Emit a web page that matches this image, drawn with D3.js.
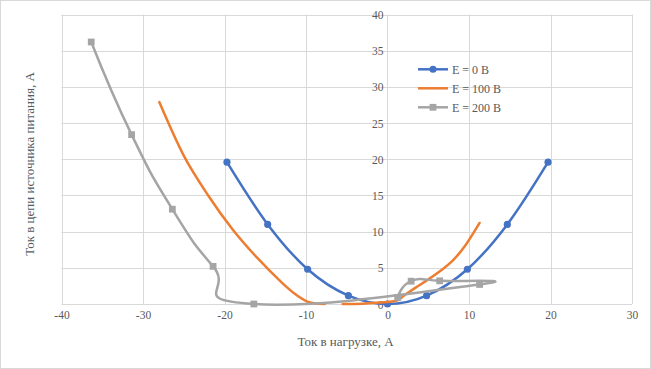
<!DOCTYPE html>
<html><head><meta charset="utf-8">
<script src="https://cdn.jsdelivr.net/npm/d3@7"></script>
<style>body{margin:0;background:#fff}svg{display:block}</style>
</head><body>
<svg id="c" width="651" height="369"></svg>
<script>
// ---- data ----
const xTicks = [-40, -30, -20, -10, 0, 10, 20, 30];
const yTicks = [0, 5, 10, 15, 20, 25, 30, 35, 40];
const seriesNames = ["E = 0 В", "E = 100 В", "E = 200 В"];
const xTitle = "Ток в нагрузке, А";
const yTitle = "Ток в цепи источника питания, А";

const e0X = [-19.7, -14.7, -9.8, -4.8, 0, 4.8, 9.8, 14.7, 19.7];
const e0Y = [19.6, 11.0, 4.8, 1.15, 0, 1.15, 4.8, 11.0, 19.6];

const e100X = [-28.0, -25.0, -22.0, -19.0, -16.0, -13.0, -11.0, -9.5, -7.7, null, -5.5, -3.0, -1.0, 0.5, 1.3, 2.2, 3.5, 5.0, 6.5, 8.0, 9.5, 11.3];
const e100Y = [27.9, 20.5, 15.0, 10.3, 6.4, 3.0, 1.1, 0.2, 0.0, null, 0.0, 0.05, 0.2, 0.35, 0.55, 1.3, 2.3, 3.4, 4.6, 6.0, 8.0, 11.2];

const e200X = [-36.35, -31.4, -26.4, -21.4, -16.4, 11.3, 6.4, 2.9, 1.25];
const e200Y = [36.2, 23.4, 13.1, 5.2, 0.0, 2.7, 3.2, 3.15, 0.9];

// ---- layout ----
const W = 651, H = 369;
const svg = d3.select("#c");
const x = d3.scaleLinear().domain([-40, 30]).range([61.5, 632]);
const y = d3.scaleLinear().domain([0, 40]).range([304, 14.5]);
const colors = ["#4472C4", "#ED7D31", "#A5A5A5"];
const grid = "#D9D9D9", txt = "#595959";
const serif = "'Liberation Serif','Times New Roman',serif";

svg.append("rect").attr("x", 0.5).attr("y", 0.5).attr("width", W - 1).attr("height", H - 1)
  .attr("fill", "#fff").attr("stroke", grid);

// gridlines
const gx = svg.append("g");
gx.selectAll("line.v").data(xTicks).join("line")
  .attr("x1", d => Math.round(x(d)) + 0.5).attr("x2", d => Math.round(x(d)) + 0.5)
  .attr("y1", y(40)).attr("y2", y(0)).attr("stroke", grid).attr("stroke-width", 1);
gx.selectAll("line.h").data(yTicks).join("line").attr("class", "h")
  .attr("y1", d => Math.round(y(d)) + 0.5).attr("y2", d => Math.round(y(d)) + 0.5)
  .attr("x1", x(-40)).attr("x2", x(30)).attr("stroke", grid).attr("stroke-width", 1);

// x axis (bottom, labels only)
const xAxis = d3.axisBottom(x).tickValues(xTicks).tickSize(0).tickPadding(0).tickFormat(d3.format("d"));
const xa = svg.append("g").attr("transform", `translate(0,${y(0)})`).call(xAxis);
xa.select(".domain").remove();
xa.selectAll("text").attr("dy", null).attr("y", 15).attr("fill", txt)
  .attr("font-family", serif).attr("font-size", 11.5).text(d => d < 0 ? "-" + Math.abs(d) : d);

// y axis at x=0
const yAxis = d3.axisLeft(y).tickValues(yTicks).tickSize(0).tickPadding(0);
const ya = svg.append("g").attr("transform", `translate(${x(0) - 4},0)`).call(yAxis);
ya.select(".domain").remove();
ya.selectAll("text").attr("dy", "0.35em").attr("x", 0).attr("fill", txt)
  .attr("font-family", serif).attr("font-size", 11.5);

// titles
svg.append("text").attr("x", 345.5).attr("y", 346).attr("text-anchor", "middle")
  .attr("font-family", serif).attr("font-size", 13).attr("fill", txt).text(xTitle);
svg.append("text").attr("transform", `translate(34,164) rotate(-90)`).attr("text-anchor", "middle")
  .attr("font-family", serif).attr("font-size", 13).attr("fill", txt).text(yTitle);

// series
function pts(xs, ys) { return xs.map((v, i) => [v, ys[i]]); }
const mkLine = c => d3.line().defined(d => d[0] !== null && d[1] !== null)
  .x(d => x(d[0])).y(d => y(d[1])).curve(c);

const series = [
  { pts: pts(e0X, e0Y), marker: "circle", curve: d3.curveCardinal.tension(0) },
  { pts: pts(e100X, e100Y), marker: null, curve: d3.curveCardinal.tension(0) },
  { pts: pts(e200X, e200Y), marker: "square", curve: d3.curveCardinal.tension(-0.5) }
];
const plot = svg.append("g");
series.forEach((s, i) => {
  plot.append("path").datum(s.pts).attr("d", mkLine(s.curve)).attr("fill", "none")
    .attr("stroke", colors[i]).attr("stroke-width", 2.5).attr("stroke-linejoin", "round").attr("stroke-linecap", "round");
  if (s.marker) {
    const sym = d3.symbol().type(s.marker === "circle" ? d3.symbolCircle : d3.symbolSquare).size(s.marker === "circle" ? 40 : 46);
    plot.selectAll(null).data(s.pts).join("path")
      .attr("transform", d => `translate(${x(d[0])},${y(d[1])})`)
      .attr("d", sym).attr("fill", colors[i]);
  }
});

// legend
const leg = svg.append("g");
const legY = [69.3, 88.3, 107.3];
series.forEach((s, i) => {
  leg.append("line").attr("x1", 418).attr("x2", 448).attr("y1", legY[i]).attr("y2", legY[i])
    .attr("stroke", colors[i]).attr("stroke-width", 2.5);
  if (s.marker) {
    const sym = d3.symbol().type(s.marker === "circle" ? d3.symbolCircle : d3.symbolSquare).size(s.marker === "circle" ? 40 : 46);
    leg.append("path").attr("transform", `translate(433,${legY[i]})`).attr("d", sym).attr("fill", colors[i]);
  }
  leg.append("text").attr("x", 452).attr("y", legY[i]).attr("dy", "0.35em")
    .attr("font-family", serif).attr("font-size", 12).attr("fill", txt).text(seriesNames[i]);
});
</script>
</body></html>
